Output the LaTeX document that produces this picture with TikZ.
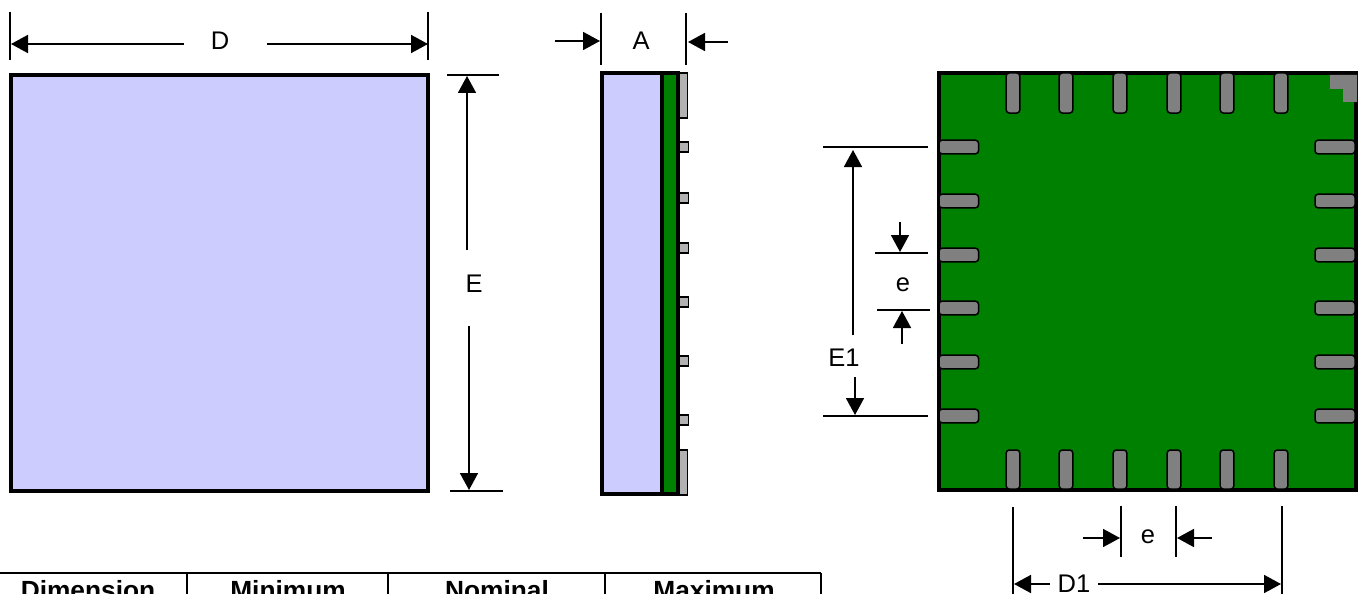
\documentclass[tikz,border=0pt]{standalone}
\usepackage{fontspec}
\setmainfont{Liberation Sans}
\usetikzlibrary{arrows.meta}
\definecolor{lilac}{HTML}{CCCCFF}
\definecolor{pcb}{HTML}{008000}
\definecolor{padgray}{HTML}{808080}
\definecolor{pingray}{HTML}{B2B2B2}
\tikzset{
  body/.style={draw=black,line width=4pt},
  padv/.style={draw=black,line width=1.5pt,fill=padgray,rounded corners=3pt},
  pinbox/.style={draw=black,line width=1.5pt,fill=pingray,inner sep=0pt,outer sep=0pt},
  extline/.style={draw=black,line width=1.8pt},
  dimarrow/.style={draw=black,line width=1.8pt,-{Triangle[length=17pt,width=18pt]}},
  dimlabel/.style={inner sep=0pt,font=\fontsize{25.5}{28}\selectfont},
  headcell/.style={inner sep=0pt,font=\fontsize{26.3}{30}\selectfont\bfseries,anchor=base},
  rule/.style={draw=black,line width=2.2pt}
}
\begin{document}
\begin{tikzpicture}[x=1pt,y=-1pt]
\useasboundingbox (0,0) rectangle (1361,594);
\clip (0,0) rectangle (1361,594);
% top view
\path[body,fill=lilac] (11,75) rectangle (428,491);
% side view
\path[body,fill=lilac] (602,73) rectangle (662,494);
\path[body,fill=pcb] (662,73) rectangle (678,494);
\node[pinbox,minimum width=8pt,minimum height=45pt,anchor=north west] (pinT) at (679.5,73) {};
\node[pinbox,minimum width=8pt,minimum height=45pt,anchor=north west] (pinB) at (679.5,450) {};
\foreach \i/\y in {1/147,2/198,3/248,4/302,5/361,6/420}
  \node[pinbox,minimum width=9pt,minimum height=10pt,anchor=west] (pin\i) at (679.5,\y) {};
% bottom view
\path[body,fill=pcb] (939,73) rectangle (1356,490);
\foreach \i/\x in {1/1013,2/1066,3/1120,4/1174,5/1227,6/1281}{
  \path[padv] (\x-6.8,73) rectangle (\x+6.8,113);
  \path[padv] (\x-6.8,450) rectangle (\x+6.8,489);
}
\foreach \i/\y in {1/147,2/201,3/255,4/308,5/362,6/416}{
  \path[padv] (939,\y-6.8) rectangle (978.5,\y+6.8);
  \path[padv] (1315,\y-6.8) rectangle (1355,\y+6.8);
}
\fill[padgray] (1330,75) -- (1357,75) -- (1357,102) -- (1343,102) -- (1343,89) -- (1330,89) -- cycle;
% labels
\node[dimlabel] (lD) at (220,41) {D};
\node[dimlabel] (lE) at (474,284) {E};
\node[dimlabel] (lA) at (641,41) {A};
\node[dimlabel] (lE1) at (844,358) {E1};
\node[dimlabel] (le1) at (903,285) {e};
\node[dimlabel] (le2) at (1148,537) {e};
\node[dimlabel] (lD1) at (1074,584) {D1};
% coordinates of the dimension lines
\coordinate (da) at (10,12); \coordinate (db) at (10,60);
\coordinate (dc) at (428,12); \coordinate (dd) at (428,60);
\coordinate (d1) at (184,44); \coordinate (d2) at (11,44);
\coordinate (d3) at (267,44); \coordinate (d4) at (428,44);
\draw[extline] (da) -- (db);
\draw[extline] (dc) -- (dd);
\draw[dimarrow] (d1) -- (d2);
\draw[dimarrow] (d3) -- (d4);
\coordinate (ea) at (447,75); \coordinate (eb) at (499,75);
\coordinate (ec) at (450,491); \coordinate (ed) at (503,491);
\coordinate (e1) at (467,250); \coordinate (e2) at (467,76);
\coordinate (e3) at (469,326); \coordinate (e4) at (469,490);
\draw[extline] (ea) -- (eb);
\draw[extline] (ec) -- (ed);
\draw[dimarrow] (e1) -- (e2);
\draw[dimarrow] (e3) -- (e4);
\coordinate (aa) at (601,13); \coordinate (ab) at (601,65);
\coordinate (ac) at (686,13); \coordinate (ad) at (686,65);
\coordinate (a1) at (555,41); \coordinate (a2) at (600,41);
\coordinate (a3) at (728,42); \coordinate (a4) at (688,42);
\draw[extline] (aa) -- (ab);
\draw[extline] (ac) -- (ad);
\draw[dimarrow] (a1) -- (a2);
\draw[dimarrow] (a3) -- (a4);
\coordinate (fa) at (823,147); \coordinate (fb) at (928,147);
\coordinate (fc) at (823,416); \coordinate (fd) at (928,416);
\coordinate (f1) at (853,335); \coordinate (f2) at (853,150);
\coordinate (f3) at (855,377); \coordinate (f4) at (855,415);
\draw[extline] (fa) -- (fb);
\draw[extline] (fc) -- (fd);
\draw[dimarrow] (f1) -- (f2);
\draw[dimarrow] (f3) -- (f4);
\coordinate (ga) at (875,253); \coordinate (gb) at (928,253);
\coordinate (gc) at (877,310); \coordinate (gd) at (930,310);
\coordinate (g1) at (900,222); \coordinate (g2) at (900,252);
\coordinate (g3) at (902,344); \coordinate (g4) at (902,311);
\draw[extline] (ga) -- (gb);
\draw[extline] (gc) -- (gd);
\draw[dimarrow] (g1) -- (g2);
\draw[dimarrow] (g3) -- (g4);
\coordinate (ha) at (1013,507); \coordinate (hb) at (1013,594);
\coordinate (hc) at (1282,506); \coordinate (hd) at (1282,594);
\coordinate (h1) at (1050,584); \coordinate (h2) at (1014,584);
\coordinate (h3) at (1098,584); \coordinate (h4) at (1281,584);
\draw[extline] (ha) -- (hb);
\draw[extline] (hc) -- (hd);
\draw[dimarrow] (h1) -- (h2);
\draw[dimarrow] (h3) -- (h4);
\coordinate (ia) at (1121,506); \coordinate (ib) at (1121,557);
\coordinate (ic) at (1176,506); \coordinate (id) at (1176,557);
\coordinate (i1) at (1083,538); \coordinate (i2) at (1120,538);
\coordinate (i3) at (1212,538); \coordinate (i4) at (1177,538);
\draw[extline] (ia) -- (ib);
\draw[extline] (ic) -- (id);
\draw[dimarrow] (i1) -- (i2);
\draw[dimarrow] (i3) -- (i4);
% table
\draw[rule] (0,573) -- (821,573);
\foreach \x in {187,388,605,821} \draw[rule] (\x,573) -- (\x,594);
\node[headcell] (h-dim) at (88,599) {Dimension};
\node[headcell] (h-min) at (288,599) {Minimum};
\node[headcell] (h-nom) at (497,599) {Nominal};
\node[headcell] (h-max) at (714,599) {Maximum};
\end{tikzpicture}
\end{document}
